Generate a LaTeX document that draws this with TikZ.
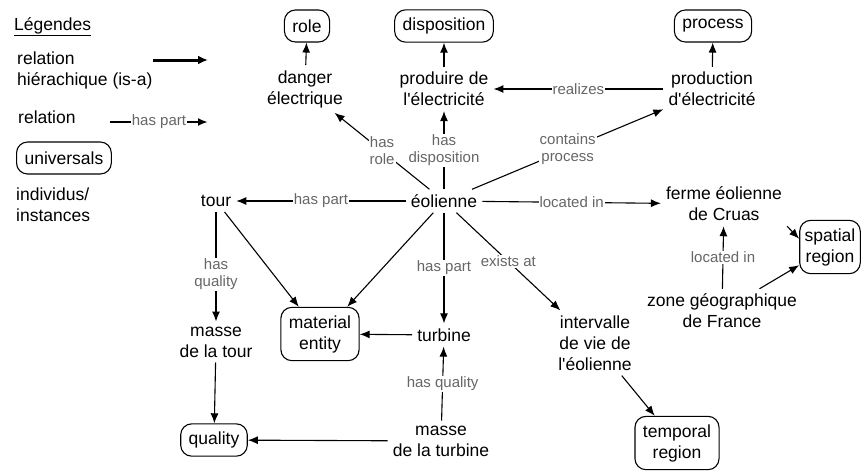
\documentclass[tikz,border=0pt]{standalone}
\usepackage{fontspec}
\setmainfont{Liberation Sans}[Ligatures=TeXOff]
\usetikzlibrary{arrows.meta}
\begin{document}
\begin{tikzpicture}[x=1pt,y=-1pt,
  every node/.style={font=\fontsize{17.5}{21}\selectfont},
  inst/.style={align=center,inner sep=5pt},
  univ/.style={draw,rounded corners=11pt,align=center,inner xsep=8pt,inner ysep=8pt,minimum height=32pt,line width=1.1pt},
  rel/.style={-{Latex[length=10pt,width=8pt]},line width=1.1pt},
  lbl/.style={font=\fontsize{15}{17}\selectfont,text=black!60,fill=white,inner sep=1pt,align=center}]
\useasboundingbox (0,0) rectangle (861,471);
\node[anchor=west,inner sep=0pt] (leg) at (14,27) {\underline{Légendes}};
\node[inst,anchor=west,align=left] (isa) at (12,70) {relation\\hiérachique (is-a)};
\coordinate (isaA) at (153,60); \coordinate (isaB) at (208,60);
\draw[-{Latex[length=10pt,width=9pt]},line width=3pt] (isaA) -- (isaB);
\node[inst,anchor=west] (relt) at (13,117) {relation};
\coordinate (relA) at (110,122); \coordinate (relB) at (208,122);
\draw[-{Latex[length=10pt,width=8pt]},line width=2pt] (relA) -- node[lbl]{has part} (relB);
\node[univ,anchor=west] (univs) at (16,158) {universals};
\node[inst,anchor=west,align=left] (indiv) at (11,205) {individus/\\instances};
\node[univ] (role) at (307,26) {role};
\node[univ] (disp) at (444,26) {disposition};
\node[univ] (proc) at (713,26) {process};
\node[inst] (danger) at (305,89) {danger\\électrique};
\node[inst] (produire) at (444,89) {produire de\\l'électricité};
\node[inst] (prod) at (712,89) {production\\d'électricité};
\node[inst] (eol) at (444,201) {éolienne};
\node[inst] (tour) at (216,201) {tour};
\node[inst] (ferme) at (724,204) {ferme éolienne\\de Cruas};
\node[univ,inner xsep=5pt] (spatial) at (830,247) {spatial\\region};
\node[inst] (zone) at (722,311) {zone géographique\\de France};
\node[univ] (mat) at (320,334) {material\\entity};
\node[inst] (turb) at (444,335) {turbine};
\node[inst] (mtour) at (216,342) {masse\\de la tour};
\node[inst] (interv) at (595,343) {intervalle\\de vie de\\l'éolienne};
\node[univ] (qual) at (214,440) {quality};
\node[inst] (mturb) at (441,441) {masse\\de la turbine};
\node[univ] (temp) at (677,443) {temporal\\region};
\draw[rel] (danger) -- (role);
\draw[rel] (produire) -- (disp);
\draw[rel] (prod) -- (proc);
\draw[rel] (prod) -- node[lbl]{realizes} (produire);
\draw[rel] (eol) -- node[lbl]{has\\role} (danger);
\draw[rel] (eol) -- node[lbl]{has\\disposition} (produire);
\draw[rel] (eol) -- node[lbl]{contains\\process} (prod);
\draw[rel] (eol) -- node[lbl]{has part} (tour);
\draw[rel] (eol) -- node[lbl]{located in} (ferme);
\draw[rel] (eol) -- (mat.45);
\draw[rel] (eol) -- node[lbl]{has part} (turb);
\draw[rel] (eol) -- node[lbl]{exists at} (interv);
\draw[rel] (tour) -- (mat);
\draw[rel] (tour) -- node[lbl,pos=0.57]{has\\quality} (mtour);
\draw[rel] (mtour) -- (qual);
\draw[rel] (turb) -- (mat);
\draw[rel] (mturb) -- node[lbl]{has quality} (turb);
\draw[rel] (mturb) -- (qual);
\draw[rel] (zone) -- node[lbl]{located in} (ferme);
\draw[rel] (zone) -- (spatial);
\draw[rel] (ferme.south east) -- (spatial.165);
\draw[rel] (interv) -- (temp);
\end{tikzpicture}
\end{document}
